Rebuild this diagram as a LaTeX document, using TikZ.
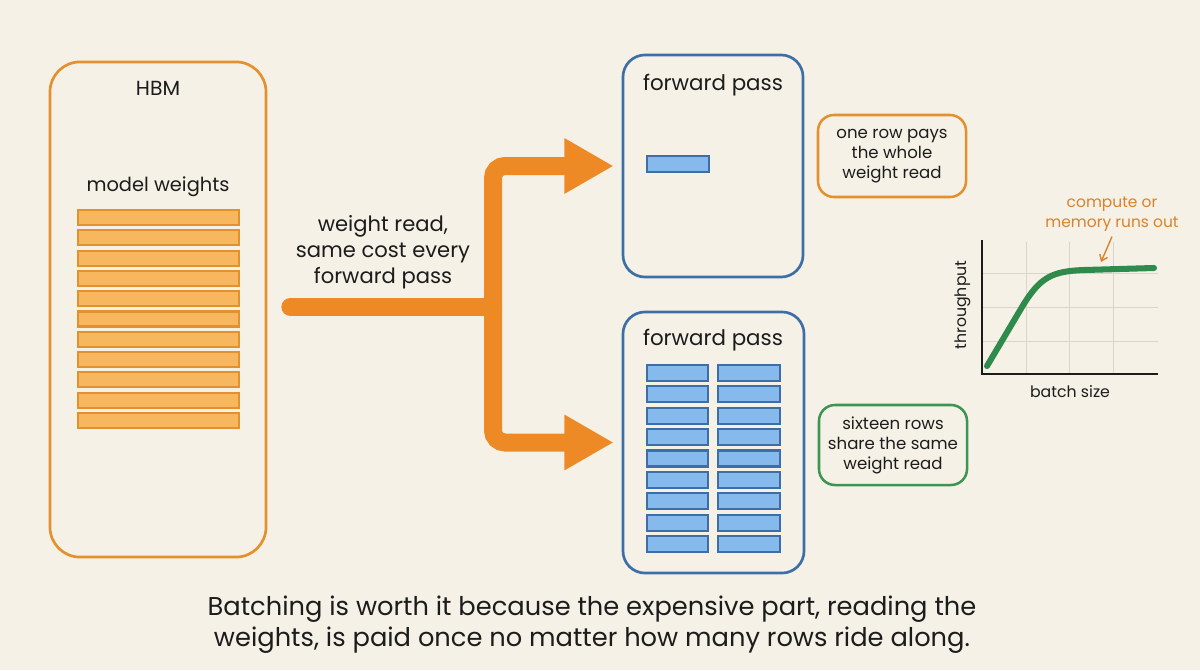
\documentclass[tikz,border=0pt]{standalone}
\usepackage{fontspec}
\setmainfont{Poppins}
\usetikzlibrary{arrows.meta,calc}
\definecolor{bg}{HTML}{F6F1E6}
\definecolor{orl}{HTML}{E3902F}
\definecolor{orf}{HTML}{F7B75F}
\definecolor{orarrow}{HTML}{EE8A26}
\definecolor{bll}{HTML}{3D6FA6}
\definecolor{blf}{HTML}{86B9EC}
\definecolor{grl}{HTML}{3E9453}
\definecolor{grc}{HTML}{2E8B4B}
\definecolor{gridc}{HTML}{D9D5CC}
\definecolor{ink}{HTML}{1C1C1C}
\definecolor{ortxt}{HTML}{D9822B}
\tikzset{
  panel/.style={draw, line width=1.9pt, inner sep=0pt, fill=none},
  wbar/.style={draw=orl, fill=orf, line width=1.5pt},
  bbar/.style={draw=bll, fill=blf, line width=1.5pt},
  notebox/.style={draw, line width=1.8pt, rounded corners=0.4cm, align=center, inner sep=0pt,
    minimum width=3.7cm, font=\fontsize{11.8}{14.2}\selectfont, text=ink},
  title/.style={text=ink, inner sep=0pt},
  bigline/.style={draw=orarrow, line width=12.8pt},
  gridln/.style={draw=gridc, line width=0.7pt},
}
\begin{document}
\begin{tikzpicture}[x=0.025cm,y=-0.025cm]
\useasboundingbox (0,0) rectangle (1200,670);
\fill[bg] (0,0) rectangle (1200,670);

% HBM panel
\node[panel, draw=orl, rounded corners=0.75cm, minimum width=5.4cm, minimum height=12.375cm] (hbm) at (158,309.5) {};
\node[title, font=\fontsize{14.5}{16}\selectfont] (hbmt) at (158,88) {HBM};
\node[title, font=\fontsize{13.8}{16}\selectfont] (mwt) at (158,187) {model weights};
\foreach \i in {0,...,10} {
  \draw[wbar] (78,{210+20.3*\i}) rectangle (239,{225+20.3*\i});
}

% forward pass panels
\node[panel, draw=bll, rounded corners=0.55cm, minimum width=4.5cm, minimum height=5.55cm] (fp1) at (713,166) {};
\node[title, font=\fontsize{15.2}{17}\selectfont] (fp1t) at (713,85) {forward pass};
\draw[bbar] (647,156) rectangle (709,172);

\node[panel, draw=bll, rounded corners=0.55cm, minimum width=4.525cm, minimum height=6.525cm] (fp2) at (713.5,442.5) {};
\node[title, font=\fontsize{15.2}{17}\selectfont] (fp2t) at (713,340) {forward pass};
\foreach \i in {0,...,8} {
  \draw[bbar] (647,{365+21.375*\i}) rectangle (708,{381+21.375*\i});
  \draw[bbar] (718,{365+21.375*\i}) rectangle (780,{381+21.375*\i});
}

% notes
\node[notebox, draw=orl, minimum height=2.05cm] (note1) at (892,156) {one row pays\\the whole\\weight read};
\node[notebox, draw=grl, minimum height=2cm] (note2) at (893,445) {sixteen rows\\share the same\\weight read};

% big arrow
\coordinate (jn) at (493,307);
\draw[bigline, line cap=round] ($(hbm.east)+(23,-2.5)$) -- (jn);
\draw[bigline, rounded corners=0.3cm, -{Triangle[length=35pt,width=37pt]}, shorten >=5.7pt] (jn) |- (fp1.west);
\draw[bigline, rounded corners=0.3cm, -{Triangle[length=35pt,width=37pt]}, shorten >=5.7pt] (jn) |- (fp2.west);
\node[title, align=center, font=\fontsize{15}{18.6}\selectfont] (lbl) at (383,252) {weight read,\\same cost every\\forward pass};

% chart
\foreach \gx in {1026,1069,1113} \draw[gridln] (\gx,242) -- (\gx,374);
\foreach \gy in {273,307,341} \draw[gridln] (982,\gy) -- (1158,\gy);
\draw[ink, line width=1.1pt] (982,240) -- (982,374) -- (1158,374);
\draw[grc, line width=4.3pt, line cap=round] (987,366) -- (1022,307) .. controls (1040,277) and (1052,271) .. (1085,270) -- (1154,268);
\node[title, rotate=90, font=\fontsize{11.2}{13}\selectfont] (ylab) at (963,305) {throughput};
\node[title, font=\fontsize{11.2}{13}\selectfont] (xlab) at (1070,392) {batch size};
\node[title, text=ortxt, align=center, font=\fontsize{11}{14.2}\selectfont] (comp) at (1112,214) {compute or\\memory runs out};
\coordinate (plateau) at (1101,262);
\draw[ortxt, line width=1pt, -{Straight Barb[length=4pt,width=6pt]}] ($(comp.south)+(0,5)$) -- (plateau);

% caption
\node[title, align=center, font=\fontsize{18.3}{22}\selectfont] (cap) at (592,624.5) {Batching is worth it because the expensive part, reading the\\weights, is paid once no matter how many rows ride along.};
\end{tikzpicture}
\end{document}
